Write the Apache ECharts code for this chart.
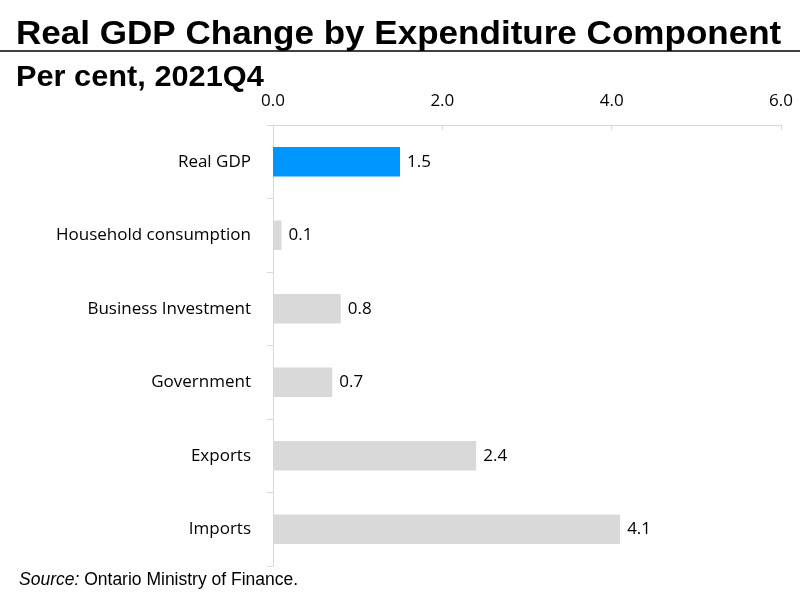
<!DOCTYPE html>
<html>
<head>
  <meta charset="utf-8">
  <title>Real GDP Change</title>
  <script src="https://cdn.jsdelivr.net/npm/echarts@6/dist/echarts.min.js"></script>
  <style>
    html, body { margin: 0; padding: 0; background: #fff; }
  </style>
</head>
<body>
<div id="main" style="width: 800px;height:600px;"></div>

<script type="text/javascript">
  // data
  var categories = ['Real GDP', 'Household consumption', 'Business Investment', 'Government', 'Exports', 'Imports'];
  var values = [1.5, 0.1, 0.8, 0.7, 2.4, 4.1];
  var highlight = 'Real GDP';

  var myChart = echarts.init(document.getElementById('main'));

  var barData = [];
  for (var i = 0; i < categories.length; i++) {
    barData.push({
      value: values[i],
      itemStyle: { color: categories[i] === highlight ? '#0096ff' : '#d9d9d9' }
    });
  }

  var option = {
    animation: false,
    title: [
      {
        text: '{i|Source:} Ontario Ministry of Finance.',
        left: 14, top: 566,
        textStyle: {
          fontFamily: 'Liberation Sans', fontWeight: 'normal', fontSize: 17.5, color: '#000',
          rich: { i: { fontFamily: 'Liberation Sans', fontStyle: 'italic', fontWeight: 'normal', fontSize: 17.5, color: '#000' } }
        }
      }
    ],
    graphic: [
      {
        type: 'text',
        x: 16, y: 18,
        scaleX: 1.062,
        style: {
          text: 'Real GDP Change by Expenditure Component',
          fontFamily: 'Liberation Sans', fontWeight: 'bold', fontSize: 33, fill: '#000'
        }
      },
      {
        type: 'line',
        shape: { x1: 0, y1: 51, x2: 800, y2: 51 },
        style: { stroke: '#000', lineWidth: 1.5 }
      },
      {
        type: 'text',
        x: 16, y: 63,
        scaleX: 1.06,
        style: {
          text: 'Per cent, 2021Q4',
          fontFamily: 'Liberation Sans', fontWeight: 'bold', fontSize: 29, fill: '#000'
        }
      }
    ],
    grid: { left: 273, right: 19, top: 125, bottom: 34, containLabel: false },
    xAxis: {
      type: 'value',
      position: 'top',
      min: 0,
      max: 6,
      interval: 2,
      axisLine: { show: true, lineStyle: { color: '#d9d9d9' } },
      axisTick: { show: true, inside: true, length: 5, lineStyle: { color: '#d9d9d9' } },
      splitLine: { show: false },
      axisLabel: {
        margin: 15,
        fontFamily: 'Open Sans', fontSize: 17, color: '#000',
        formatter: function (v) { return v.toFixed(1); }
      }
    },
    yAxis: {
      type: 'category',
      inverse: true,
      data: categories,
      axisLine: { show: true, lineStyle: { color: '#d9d9d9' } },
      axisTick: { show: true, length: 6, lineStyle: { color: '#d9d9d9' } },
      axisLabel: { margin: 22, fontFamily: 'Open Sans', fontSize: 17, color: '#000' }
    },
    series: [{
      type: 'bar',
      data: barData,
      barWidth: '40%',
      label: {
        show: true,
        position: 'right',
        distance: 7,
        fontFamily: 'Open Sans', fontSize: 17, color: '#000',
        formatter: function (p) { return p.value.toFixed(1); }
      }
    }]
  };

  myChart.setOption(option);
</script>
</body>
</html>
